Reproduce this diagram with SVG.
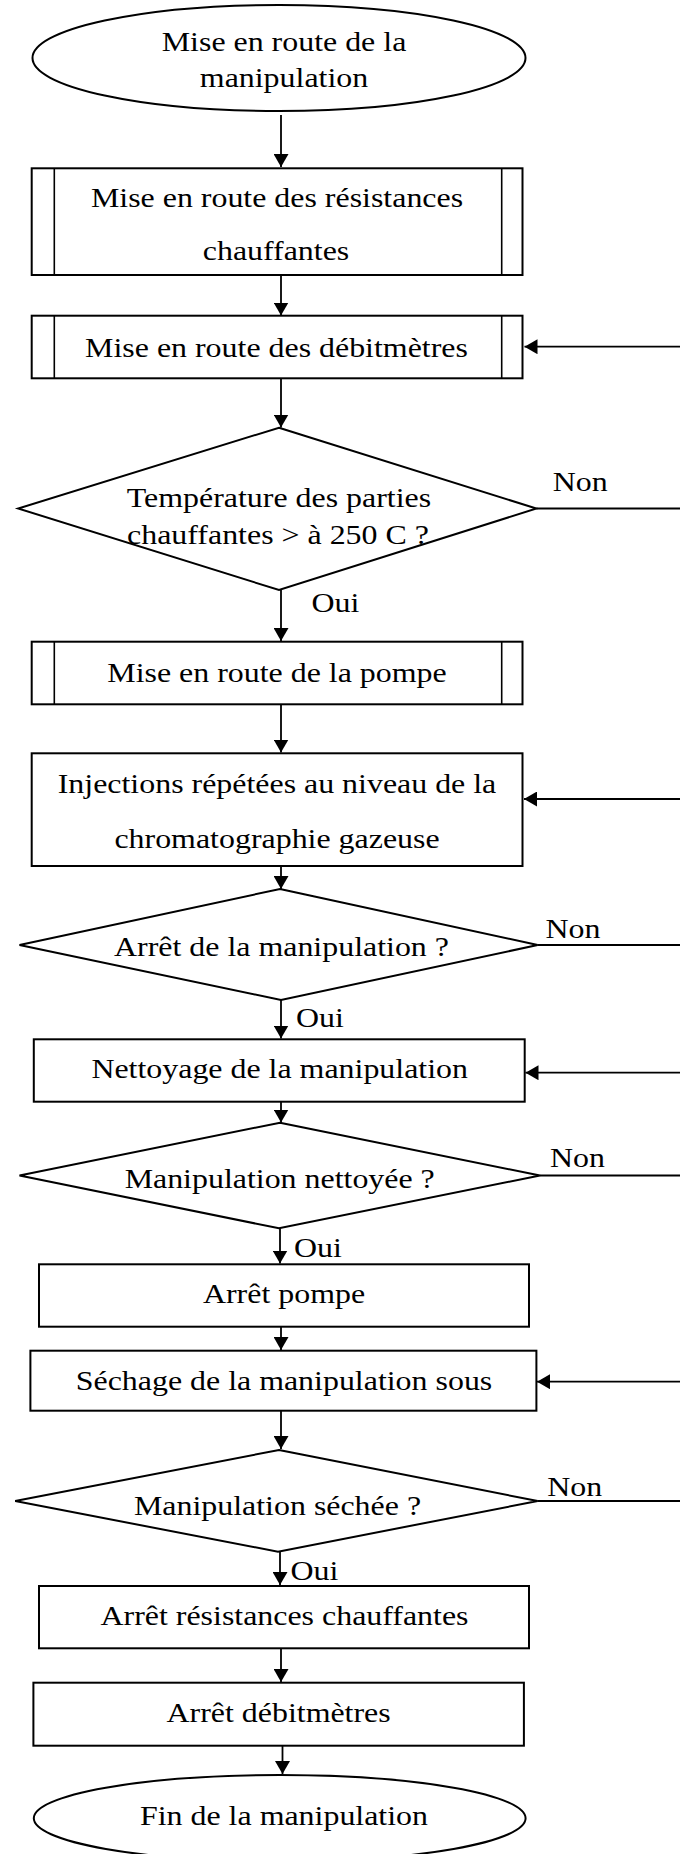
<svg xmlns="http://www.w3.org/2000/svg" width="680" height="1854" viewBox="0 0 680 1854">
<style>
.s{fill:#fff;stroke:#000;stroke-width:2}
.in{fill:none;stroke:#000;stroke-width:1.6}
.c{fill:none;stroke:#000;stroke-width:1.8}
.t{font-family:"Liberation Serif","Times New Roman",serif;font-size:28px;fill:#000;text-anchor:middle}
.l{font-family:"Liberation Serif","Times New Roman",serif;font-size:28px;fill:#000}
</style>
<defs>
<marker id="ah" markerWidth="14" markerHeight="15" refX="13" refY="7.5" orient="auto" markerUnits="userSpaceOnUse">
<path d="M0,0 L13,7.5 L0,15 z" fill="#000"/>
</marker>
</defs>
<rect width="680" height="1854" fill="#fff"/>

<g id="connectors">
<line class="c" x1="281" y1="115" x2="281" y2="167" marker-end="url(#ah)"/>
<line class="c" x1="281" y1="275" x2="281" y2="315.5" marker-end="url(#ah)"/>
<line class="c" x1="281" y1="378.3" x2="281" y2="427.5" marker-end="url(#ah)"/>
<line class="c" x1="680" y1="346.7" x2="524.5" y2="346.7" marker-end="url(#ah)"/>
<line class="c" x1="536.4" y1="508.5" x2="680" y2="508.5"/>
<line class="c" x1="281" y1="590" x2="281" y2="641" marker-end="url(#ah)"/>
<line class="c" x1="281" y1="704.3" x2="281" y2="752.5" marker-end="url(#ah)"/>
<line class="c" x1="680" y1="799" x2="524" y2="799" marker-end="url(#ah)"/>
<line class="c" x1="281" y1="866" x2="281" y2="889" marker-end="url(#ah)"/>
<line class="c" x1="537.7" y1="945" x2="680" y2="945"/>
<line class="c" x1="281" y1="1000" x2="281" y2="1038.5" marker-end="url(#ah)"/>
<line class="c" x1="680" y1="1072.7" x2="525.5" y2="1072.7" marker-end="url(#ah)"/>
<line class="c" x1="281" y1="1101.7" x2="281" y2="1122.5" marker-end="url(#ah)"/>
<line class="c" x1="540" y1="1175.5" x2="680" y2="1175.5"/>
<line class="c" x1="280" y1="1228.3" x2="280" y2="1263.5" marker-end="url(#ah)"/>
<line class="c" x1="281" y1="1326.7" x2="281" y2="1350" marker-end="url(#ah)"/>
<line class="c" x1="680" y1="1381.7" x2="537" y2="1381.7" marker-end="url(#ah)"/>
<line class="c" x1="281" y1="1411" x2="281" y2="1449" marker-end="url(#ah)"/>
<line class="c" x1="537.7" y1="1501" x2="680" y2="1501"/>
<line class="c" x1="280" y1="1551.7" x2="280" y2="1585" marker-end="url(#ah)"/>
<line class="c" x1="281" y1="1648.3" x2="281" y2="1682" marker-end="url(#ah)"/>
<line class="c" x1="282.5" y1="1745.7" x2="282.5" y2="1774" marker-end="url(#ah)"/>
</g>

<g id="start">
<ellipse class="s" cx="279" cy="58" rx="246.5" ry="53"/>
<text class="t" transform="translate(284,50.7) scale(1.14,1)">Mise en route de la</text>
<text class="t" transform="translate(284,87.3) scale(1.14,1)">manipulation</text>
</g>

<g id="resistances">
<rect class="s" x="31.7" y="168.3" width="490.8" height="106.7"/>
<line class="in" x1="54.3" y1="168.3" x2="54.3" y2="275"/>
<line class="in" x1="501.7" y1="168.3" x2="501.7" y2="275"/>
<text class="t" transform="translate(277,206.7) scale(1.14,1)">Mise en route des résistances</text>
<text class="t" transform="translate(276,260) scale(1.14,1)">chauffantes</text>
</g>

<g id="debitmetres">
<rect class="s" x="31.7" y="315.7" width="490.8" height="62.6"/>
<line class="in" x1="54.3" y1="315.7" x2="54.3" y2="378.3"/>
<line class="in" x1="501.7" y1="315.7" x2="501.7" y2="378.3"/>
<text class="t" transform="translate(276.5,356.7) scale(1.14,1)">Mise en route des débitmètres</text>
</g>

<g id="temperature">
<polygon class="s" points="279,427.7 536.4,508.5 279,590 18.2,508.5"/>
<text class="t" transform="translate(279,506.7) scale(1.14,1)">Température des parties</text>
<text class="t" transform="translate(278,544) scale(1.14,1)">chauffantes &gt; à 250 C ?</text>
<text class="l" transform="translate(552.7,490.7) scale(1.14,1)">Non</text>
<text class="l" transform="translate(311.4,611.7) scale(1.14,1)">Oui</text>
</g>

<g id="pompe">
<rect class="s" x="31.7" y="641.7" width="490.8" height="62.6"/>
<line class="in" x1="54.3" y1="641.7" x2="54.3" y2="704.3"/>
<line class="in" x1="501.7" y1="641.7" x2="501.7" y2="704.3"/>
<text class="t" transform="translate(277,681.7) scale(1.14,1)">Mise en route de la pompe</text>
</g>

<g id="injections">
<rect class="s" x="31.7" y="753.3" width="490.8" height="112.7"/>
<text class="t" transform="translate(277,793.3) scale(1.14,1)">Injections répétées au niveau de la</text>
<text class="t" transform="translate(277,848.3) scale(1.14,1)">chromatographie gazeuse</text>
</g>

<g id="arret-manip">
<polygon class="s" points="280,889 537.7,945 281,1000 19.5,945"/>
<text class="t" transform="translate(281.5,956) scale(1.14,1)">Arrêt de la manipulation ?</text>
<text class="l" transform="translate(545.5,938.3) scale(1.14,1)">Non</text>
<text class="l" transform="translate(296,1026.7) scale(1.14,1)">Oui</text>
</g>

<g id="nettoyage">
<rect class="s" x="33.8" y="1039.3" width="490.9" height="62.4"/>
<text class="t" transform="translate(279.7,1078.3) scale(1.14,1)">Nettoyage de la manipulation</text>
</g>

<g id="nettoyee">
<polygon class="s" points="280,1122.7 540,1175.5 279,1228.3 19.5,1175.5"/>
<text class="t" transform="translate(279.7,1188.3) scale(1.14,1)">Manipulation nettoyée ?</text>
<text class="l" transform="translate(549.9,1166.7) scale(1.14,1)">Non</text>
<text class="l" transform="translate(294,1256.7) scale(1.14,1)">Oui</text>
</g>

<g id="arret-pompe">
<rect class="s" x="39" y="1264.3" width="490" height="62.4"/>
<text class="t" transform="translate(284,1303.3) scale(1.14,1)">Arrêt pompe</text>
</g>

<g id="sechage">
<rect class="s" x="30.4" y="1350.7" width="506" height="60"/>
<text class="t" transform="translate(284,1390) scale(1.14,1)">Séchage de la manipulation sous</text>
</g>

<g id="sechee">
<polygon class="s" points="279,1450 537.7,1501 278,1551.7 15.2,1501"/>
<text class="t" transform="translate(277.5,1515) scale(1.14,1)">Manipulation séchée ?</text>
<text class="l" transform="translate(547.3,1496) scale(1.14,1)">Non</text>
<text class="l" transform="translate(290.5,1580) scale(1.14,1)">Oui</text>
</g>

<g id="arret-resistances">
<rect class="s" x="39" y="1586" width="490" height="62.3"/>
<text class="t" transform="translate(284.5,1625) scale(1.14,1)">Arrêt résistances chauffantes</text>
</g>

<g id="arret-debitmetres">
<rect class="s" x="33.4" y="1682.7" width="490.5" height="63"/>
<text class="t" transform="translate(278.6,1721.7) scale(1.14,1)">Arrêt débitmètres</text>
</g>

<g id="end">
<ellipse class="s" cx="279.7" cy="1818.3" rx="245.9" ry="43.3"/>
<text class="t" transform="translate(284,1825) scale(1.14,1)">Fin de la manipulation</text>
</g>
</svg>
